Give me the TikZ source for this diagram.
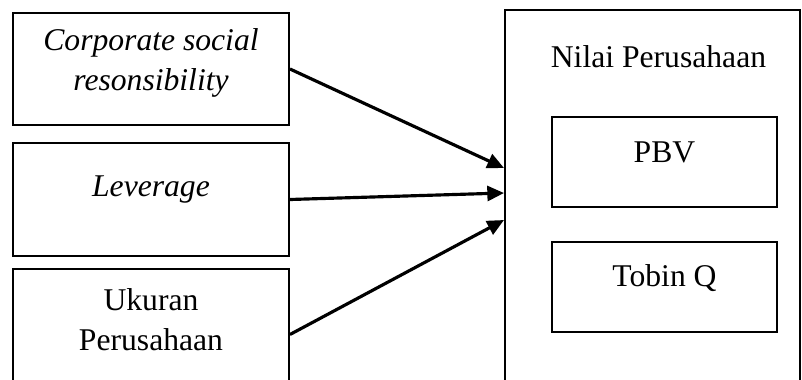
\documentclass[tikz,border=0pt]{standalone}
\usepackage{fontspec}
\setmainfont{Liberation Serif}
\usepackage{tikz}
\usetikzlibrary{arrows.meta,positioning}

\begin{document}
\begin{tikzpicture}[
    varbox/.style={rectangle, draw=black, line width=1.1pt, minimum width=5.52cm},
    inbox/.style={rectangle, draw=black, line width=1.1pt, minimum width=4.5cm, minimum height=1.8cm},
    txt/.style={font=\fontsize{18}{22.7}\selectfont, align=center, inner sep=0pt},
    arrow/.style={-{Triangle[length=9.5pt,width=8.5pt]}, line width=1.8pt}
]
\useasboundingbox (0,0) rectangle (16.04,7.58);
\clip (0,0) rectangle (16.04,7.58);

% independent variables
\node[varbox, minimum height=2.24cm] (csr) at (3.02, 6.20) {};
\node[varbox, minimum height=2.26cm] (lev) at (3.02, 3.59) {};
\node[varbox, minimum height=2.62cm] (uk) at (3.02, 0.89) {};

\node[txt] (csrtxt) at (3.02, 6.32) {\itshape Corporate social\\\itshape resonsibility};
\node[txt] (levtxt) at (3.02, 3.78) {\itshape Leverage};
\node[txt] (uktxt) at (3.02, 1.18) {Ukuran\\Perusahaan};

% dependent variable
\node[rectangle, draw=black, line width=1.1pt, minimum width=5.9cm, minimum height=7.8cm] (nilai) at (13.05, 3.48) {};
\node[txt] (nilaitxt) at (13.17, 6.44) {Nilai Perusahaan};

\node[inbox] (pbv) at (13.29, 4.34) {};
\node[inbox] (tobin) at (13.29, 1.84) {};
\node[txt] (pbvtxt) at (13.29, 4.54) {PBV};
\node[txt] (tobintxt) at (13.29, 2.02) {Tobin Q};

% arrows
\draw[arrow] (csr.east) -- ([yshift=0.74cm]nilai.west);
\draw[arrow] (lev.east) -- ([yshift=0.24cm]nilai.west);
\draw[arrow] (uk.east) -- ([yshift=-0.30cm]nilai.west);

\end{tikzpicture}
\end{document}
